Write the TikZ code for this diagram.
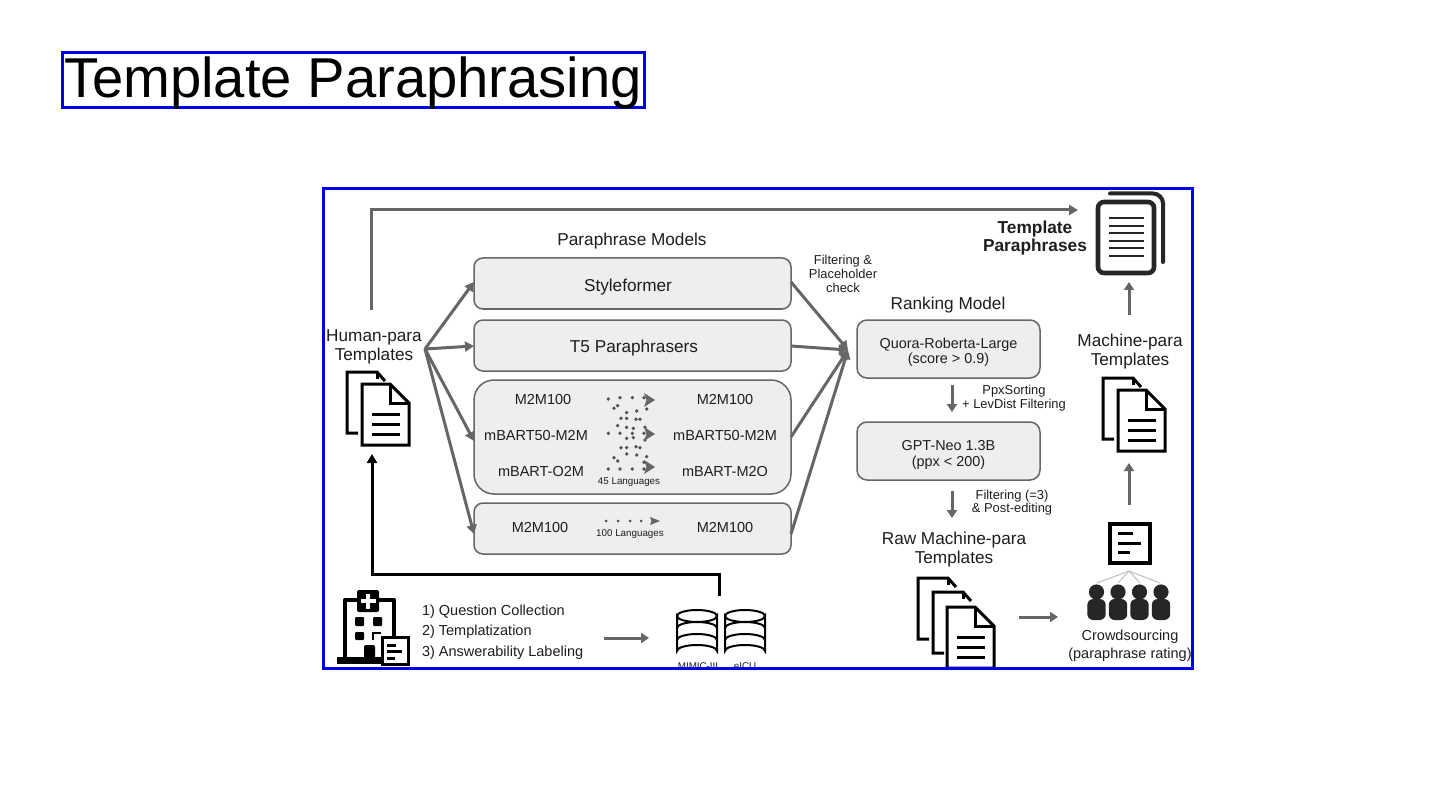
\documentclass[tikz,border=0pt]{standalone}
\usepackage{fontspec}
\setmainfont{Liberation Sans}
\usetikzlibrary{arrows.meta,calc}
\definecolor{ink}{HTML}{1E1E1E}
\definecolor{flow}{HTML}{666666}
\definecolor{boxfill}{HTML}{EEEEEE}
\definecolor{frameblue}{HTML}{0000EE}
\tikzset{
  x=1pt,y=-1pt,
  rbox/.style={draw=flow,fill=boxfill,line width=1.5pt,rounded corners=9pt,inner sep=0pt,outer sep=0pt,text=ink,align=center},
  lab/.style={inner sep=0pt,outer sep=0pt,text=ink,align=center,font=\fontsize{17.2}{19}\selectfont},
  blab/.style={lab,font=\fontsize{14.4}{15.5}\selectfont},
  mlab/.style={lab,font=\fontsize{14.5}{16.5}\selectfont},
  slab/.style={lab,font=\fontsize{12.9}{14}\selectfont},
  tlab/.style={lab,font=\fontsize{9.8}{11}\selectfont},
  steplab/.style={lab,font=\fontsize{14.5}{16}\selectfont,anchor=west},
  flowline/.style={draw=flow,line width=3pt,-{Triangle[length=9pt,width=10pt]}},
  thinflow/.style={draw=flow,line width=3pt,-{Triangle[length=8pt,width=10pt]}},
  iconline/.style={draw=black,line width=3pt,line join=miter},
  frame/.style={draw=frameblue,line width=3pt,inner sep=0pt,outer sep=0pt},
  dot/.style={fill=flow!80!black,draw=none,circle,minimum size=3.8pt,inner sep=0pt},
}
\newcommand{\backpage}[2]{% x,y of top-left of the back page
  \draw[iconline] (#1+11,#2+61) -- (#1,#2+61) -- (#1,#2) -- (#1+30,#2) -- (#1+38,#2+9);
  \draw[iconline] (#1+30,#2) -- (#1+30,#2+7);
}
\newcommand{\frontpage}[2]{% x,y of top-left of the front page
  \draw[iconline,fill=white] (#1,#2) -- (#1+28,#2) -- (#1+47,#2+19) -- (#1+47,#2+61) -- (#1,#2+61) -- cycle;
  \draw[iconline] (#1+28,#2) -- (#1+28,#2+19) -- (#1+47,#2+19);
  \draw[iconline] (#1+10,#2+30) -- (#1+38,#2+30);
  \draw[iconline] (#1+10,#2+40) -- (#1+38,#2+40);
  \draw[iconline] (#1+10,#2+50) -- (#1+38,#2+50);
}
\newcommand{\cylinder}[1]{% left x
  \draw[iconline,line width=2pt,fill=white] (#1,616) arc[start angle=180,end angle=0,x radius=20,y radius=6] -- (#1+40,651) arc[start angle=0,end angle=-180,x radius=20,y radius=6] -- cycle;
  \draw[iconline,line width=2pt] (#1,616) arc[start angle=180,end angle=360,x radius=20,y radius=6];
  \draw[iconline,line width=2pt] (#1,628) arc[start angle=180,end angle=360,x radius=20,y radius=6];
  \draw[iconline,line width=2pt] (#1,640) arc[start angle=180,end angle=360,x radius=20,y radius=6];
}
\newcommand{\person}[1]{% centre x
  \fill[black!85] (#1,592) circle[radius=7.6];
  \fill[black!85,rounded corners=6pt] (#1-9.2,599) rectangle (#1+9.2,620);
}
\begin{document}
\begin{tikzpicture}
\useasboundingbox (0,0) rectangle (1440,810);
\fill[white] (0,0) rectangle (1440,810);

% Title
\node[frame,minimum width=582pt,minimum height=55pt] (titlebox) at (353,80.5) {};
\node[inner sep=0pt,text=black,font=\fontsize{56.2}{60}\selectfont] (title) at (353,82.5) {Template Paraphrasing};

\begin{scope}
\clip (323,189) rectangle (1192,668);

% Boxes
\node[rbox,minimum width=317pt,minimum height=51pt] (style) at (632.5,283.5) {};
\node[rbox,minimum width=317pt,minimum height=51pt] (t5) at (632.5,345.5) {};
\node[rbox,rounded corners=20pt,minimum width=317pt,minimum height=114pt] (mid) at (632.5,437) {};
\node[rbox,minimum width=317pt,minimum height=51pt] (low) at (632.5,528.5) {};
\node[rbox,rounded corners=10pt,minimum width=183pt,minimum height=58pt] (quora) at (948.5,349) {};
\node[rbox,rounded corners=10pt,minimum width=183pt,minimum height=58pt] (neo) at (948.5,451) {};
\node[lab] (styletext) at (628,287.5) {Styleformer};
\node[lab] (t5text) at (634,348.5) {T5 Paraphrasers};
\node[blab] (quoratext) at (948.5,352.5) {Quora-Roberta-Large\\(score > 0.9)};
\node[blab] (neotext) at (948.5,455) {GPT-Neo 1.3B\\(ppx < 200)};

% Headings and labels
\node[lab] (pmodels) at (632,241) {Paraphrase Models};
\node[lab] (rmodel) at (948,305) {Ranking Model};
\node[lab] (human) at (374,346.5) {Human-para\\Templates};
\node[lab] (machine) at (1130,352) {Machine-para\\Templates};
\node[lab] (raw) at (954,549.5) {Raw Machine-para\\Templates};
\node[lab,font=\bfseries\fontsize{17.3}{18.5}\selectfont] (tp) at (1035,238) {Template\\Paraphrases};
\node[slab] (filt) at (843,273.5) {Filtering \&\\Placeholder\\check};
\node[slab] (ppx) at (1014,398.5) {PpxSorting\\+ LevDist Filtering};
\node[slab,font=\fontsize{12.9}{11.5}\selectfont] (filt2) at (1012,503) {Filtering (=3)\\\& Post-editing};

% Model names
\node[mlab] (a1) at (543,400) {M2M100};
\node[mlab] (a2) at (536,436) {mBART50-M2M};
\node[mlab] (a3) at (541,472) {mBART-O2M};
\node[mlab] (b1) at (725,400) {M2M100};
\node[mlab] (b2) at (725,436) {mBART50-M2M};
\node[mlab] (b3) at (725,472) {mBART-M2O};
\node[tlab] (l45) at (629,482) {45 Languages};
\node[mlab] (c1) at (540,528) {M2M100};
\node[mlab] (c2) at (725,528) {M2M100};
\node[tlab] (l100) at (630,534.5) {100 Languages};

% Scatter of languages
\foreach \px/\py in {415/72,450/68,487/68,522/68,443/92,432/100,470/113,500/108,530/102,453/130,470/130,498/133,510/133,443/152,470/157,490/160,525/157,415/175,450/175,487/175,522/175,470/190,490/188,525/195,453/218,470/218,498/215,510/218,470/237,500/240,530/245,432/248,443/258,522/262,415/282,450/282,487/282,522/282}
  \node[dot] at ({470+\px/3},{375+\py/3}) {};
\foreach \ty in {400,434,467}{
  \fill[flow] (644,\ty-7) -- (655,\ty) -- (644,\ty+7) -- (646.5,\ty) -- cycle;
}
\foreach \dx in {606,618,630,641}
  \node[dot,minimum size=3pt] at (\dx,521) {};
\fill[flow] (650,517) -- (660,521) -- (650,525) -- (651.5,521) -- cycle;

% Human-para fan
\coordinate (hub) at (425,349);
\coordinate (sink) at (848,350);
\draw[flowline] (hub) -- ([yshift=1.5pt]style.west);
\draw[flowline] (hub) -- ([yshift=-0.5pt]t5.west);
\draw[flowline] (hub) -- ([yshift=-4pt]mid.west);
\draw[flowline] (hub) -- ([yshift=-5.5pt]low.west);
\draw[flowline] ([yshift=1.5pt]style.east) -- (sink);
\draw[flowline] ([yshift=-0.5pt]t5.east) -- (sink);
\draw[flowline] (mid.east) -- (sink);
\draw[flowline] ([yshift=-5.5pt]low.east) -- (sink);

% Top route
\coordinate (topstart) at (371,310);
\coordinate (topend) at (1078,210);
\draw[flowline] (topstart) |- (topend);

% Black return route
\coordinate (dbtop) at (719,596);
\coordinate (humanin) at (372,454);
\draw[draw=black,line width=3pt,-{Triangle[length=9pt,width=10pt]}] (dbtop) -- (719,574) -- (372,574) -- (humanin);

% Pipeline arrows
\coordinate (d1s) at (952,385); \coordinate (d1e) at (952,412);
\coordinate (d2s) at (952,491); \coordinate (d2e) at (952,518);
\coordinate (rs) at (1019,617); \coordinate (re) at (1058,617);
\coordinate (u1s) at (1129,505); \coordinate (u1e) at (1129,463);
\coordinate (u2s) at (1129,315); \coordinate (u2e) at (1129,282);
\coordinate (qs) at (604,638); \coordinate (qe) at (649,638);
\draw[thinflow] (d1s) -- (d1e);
\draw[thinflow] (d2s) -- (d2e);
\draw[thinflow] (rs) -- (re);
\draw[thinflow] (u1s) -- (u1e);
\draw[thinflow] (u2s) -- (u2e);
\draw[thinflow] (qs) -- (qe);

% Document icons
\backpage{347}{372}\frontpage{362}{384}
\backpage{1103}{378}\frontpage{1118}{390}
\backpage{918}{578}
\fill[white] (934,593) rectangle (946,655);
\backpage{933}{592}\frontpage{947}{607}

% Template paraphrases icon
\draw[draw=black!85,line width=4pt,line cap=round,rounded corners=10pt] (1110,193.5) -- (1163,193.5) -- (1163,262);
\draw[draw=black!85,fill=white,line width=4.6pt,rounded corners=6pt] (1098,202) rectangle (1154,273);
\foreach \ly in {218,226,233,241,248,256}
  \draw[draw=black!85,line width=2.8pt] (1109,\ly) -- (1144,\ly);

% Crowd
\draw[iconline,line width=3.6pt] (1110,524) rectangle (1150,563);
\draw[iconline] (1118,533) -- (1133,533);
\draw[iconline] (1118,543) -- (1141,543);
\draw[iconline] (1118,552) -- (1130,552);
\coordinate (cr) at (1129,571);
\foreach \cx in {1097,1118,1140,1160}
  \draw[draw=black!25,line width=1pt] (cr) -- (\cx,583);
\person{1096.5}\person{1118}\person{1139.5}\person{1161}
\node[lab,font=\fontsize{14.5}{18}\selectfont] (crowd) at (1130,646) {Crowdsourcing\\(paraphrase rating)};

% Hospital
\draw[black,line width=4.6pt,line join=round] (345,660) -- (345,600) -- (394,600) -- (394,636);
\fill[black] (337,656.5) rectangle (382,664);
\fill[black,rounded corners=2pt] (357,590) rectangle (379,612);
\fill[white] (366,593.5) rectangle (370,608.5);
\fill[white] (360.5,599) rectangle (375.5,603);
\fill[black,rounded corners=1pt] (355,617) rectangle (364,626);
\fill[black,rounded corners=1pt] (373,617) rectangle (382,626);
\fill[black,rounded corners=1pt] (355,632) rectangle (364,640);
\draw[black,line width=2.4pt] (373,640) -- (373,633) -- (381,633);
\fill[black,rounded corners=2pt] (364,645) rectangle (375,660);
\draw[iconline,fill=white] (382,637.5) rectangle (408,664.5);
\draw[iconline] (387,645) -- (396,645);
\draw[iconline] (387,651) -- (402,651);
\draw[iconline] (387,658) -- (395,658);

% Steps
\node[steplab] (s1) at (422,612) {1) Question Collection};
\node[steplab] (s2) at (422,632) {2) Templatization};
\node[steplab] (s3) at (422,653) {3) Answerability Labeling};

% Databases
\cylinder{677}\cylinder{725}
\node[tlab] (mimic) at (698,666) {MIMIC-III};
\node[tlab] (eicu) at (745,666) {eICU};
\end{scope}

\node[frame,minimum width=869pt,minimum height=479pt] (imgframe) at (757.5,428.5) {};
\end{tikzpicture}
\end{document}
